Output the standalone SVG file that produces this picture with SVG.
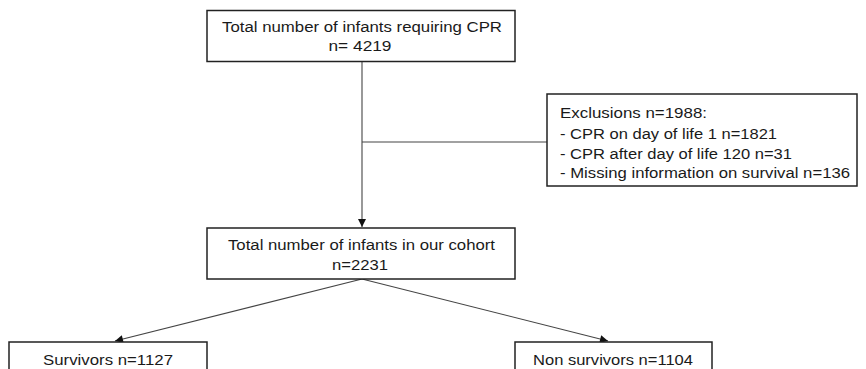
<svg xmlns="http://www.w3.org/2000/svg" width="866" height="369" viewBox="0 0 866 369">
<style>
.box{fill:#ffffff;stroke:#222222;stroke-width:1.5}
.t{font-family:"Liberation Sans",Arial,sans-serif;font-size:15.5px;fill:#1a1a1a}
.c{text-anchor:middle}
.ln{fill:none;stroke:#444444;stroke-width:1.1}
</style>
<defs>
<marker id="ah" viewBox="0 0 10 10" refX="10" refY="5" markerWidth="9" markerHeight="8" markerUnits="userSpaceOnUse" orient="auto">
<path d="M0,0 L10,5 L0,10 Z" fill="#111111"/>
</marker>
</defs>
<rect width="866" height="369" fill="#ffffff"/>
<g id="connectors">
<line class="ln" x1="362" y1="62" x2="362" y2="227" marker-end="url(#ah)"/>
<line class="ln" x1="362" y1="142" x2="547" y2="142"/>
<line class="ln" x1="362" y1="279" x2="115" y2="341" marker-end="url(#ah)"/>
<line class="ln" x1="362" y1="279" x2="608" y2="341" marker-end="url(#ah)"/>
</g>
<g id="n_total">
<rect class="box" x="207" y="10.5" width="308" height="51"/>
<text class="t c" x="362" y="32" textLength="280" lengthAdjust="spacingAndGlyphs">Total number of infants requiring CPR</text>
<text class="t c" x="360" y="51" textLength="63" lengthAdjust="spacingAndGlyphs">n= 4219</text>
</g>
<g id="n_exclusions">
<rect class="box" x="547" y="94" width="310" height="92"/>
<text class="t" x="560" y="117.5" textLength="147" lengthAdjust="spacingAndGlyphs">Exclusions n=1988:</text>
<text class="t" x="560" y="138.5" textLength="217" lengthAdjust="spacingAndGlyphs">- CPR on day of life 1 n=1821</text>
<text class="t" x="560" y="158.5" textLength="232" lengthAdjust="spacingAndGlyphs">- CPR after day of life 120 n=31</text>
<text class="t" x="560" y="178" textLength="290" lengthAdjust="spacingAndGlyphs">- Missing information on survival n=136</text>
</g>
<g id="n_cohort">
<rect class="box" x="207" y="228" width="308" height="51"/>
<text class="t c" x="361.5" y="250" textLength="267" lengthAdjust="spacingAndGlyphs">Total number of infants in our cohort</text>
<text class="t c" x="360" y="270" textLength="56" lengthAdjust="spacingAndGlyphs">n=2231</text>
</g>
<g id="n_survivors">
<rect class="box" x="9" y="342" width="198" height="40"/>
<text class="t c" x="108" y="365" textLength="130" lengthAdjust="spacingAndGlyphs">Survivors n=1127</text>
</g>
<g id="n_nonsurvivors">
<rect class="box" x="515" y="342" width="197" height="40"/>
<text class="t c" x="613" y="365" textLength="160" lengthAdjust="spacingAndGlyphs">Non survivors n=1104</text>
</g>
</svg>
